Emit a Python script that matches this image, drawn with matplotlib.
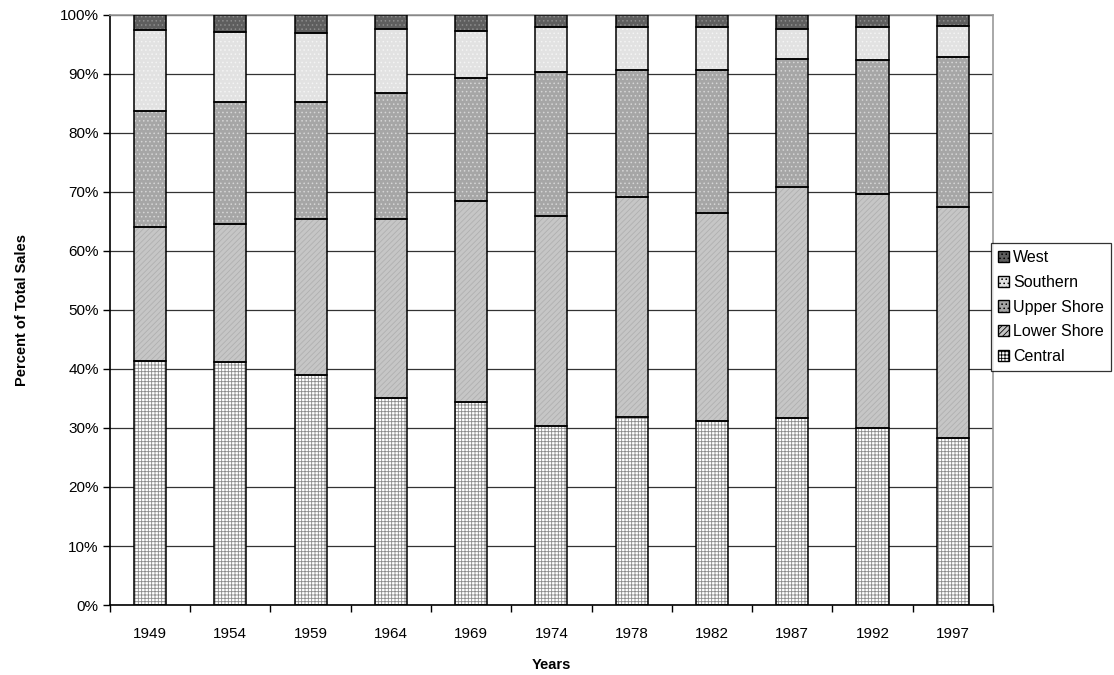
"""
Regional share of total sales, stacked percent columns by census year
"""

import matplotlib
matplotlib.use("Agg")
import matplotlib.pyplot as plt
import numpy as np
from matplotlib.patches import Rectangle
from matplotlib.ticker import PercentFormatter, FixedLocator

plt.rcParams["font.family"] = ["Liberation Sans", "DejaVu Sans"]
plt.rcParams["hatch.linewidth"] = 0.6

years = ["1949", "1954", "1959", "1964", "1969", "1974", "1978", "1982", "1987", "1992", "1997"]
central = [41.4, 41.2, 38.9, 35.1, 34.4, 30.3, 31.9, 31.2, 31.7, 30.0, 28.3]
lower_shore = [22.6, 23.3, 26.6, 30.4, 34.0, 35.7, 37.3, 35.2, 39.2, 39.6, 39.1]
upper_shore = [19.8, 20.7, 19.8, 21.2, 21.0, 24.4, 21.5, 24.2, 21.7, 22.7, 25.4]
southern = [13.7, 12.0, 11.7, 10.9, 7.9, 7.5, 7.3, 7.4, 5.1, 5.7, 5.4]
west = [2.5, 2.8, 3.0, 2.4, 2.7, 2.1, 2.0, 2.0, 2.3, 2.0, 1.8]

# (name, values, fill, hatch, hatch colour) from bottom to top
series = [
    ("Central", central, "#ffffff", "+++++", "#8a8a8a"),
    ("Lower Shore", lower_shore, "#c6c6c6", "//////", "#b0b0b0"),
    ("Upper Shore", upper_shore, "#a6a6a6", "....", "#d6d6d6"),
    ("Southern", southern, "#e2e2e2", "....", "#f4f4f4"),
    ("West", west, "#5e5e5e", "....", "#8c8c8c"),
]

fig = plt.figure(figsize=(11.14, 6.75), dpi=100)
ax = fig.add_axes([0.0987, 0.1037, 0.7926, 0.8741])

x = np.arange(len(years))
width = 0.4
bottom = np.zeros(len(years))
for name, vals, fc, hatch, hc in series:
    vals = np.array(vals)
    # textured fill first, then the black outline on top
    ax.bar(x, vals, width, bottom=bottom, color=fc, hatch=hatch,
           edgecolor=hc, linewidth=0, zorder=2)
    ax.bar(x, vals, width, bottom=bottom, fill=False,
           edgecolor="black", linewidth=1.1, zorder=3)
    bottom += vals

ax.set_xlim(-0.5, len(years) - 0.5)
ax.set_ylim(0, 100)

ax.set_yticks(np.arange(0, 101, 10))
ax.yaxis.set_major_formatter(PercentFormatter(decimals=0))
ax.yaxis.grid(True, color="#333333", linewidth=0.9, zorder=1)
ax.set_axisbelow(True)

# category labels centred, tick marks between the columns
ax.set_xticks(x)
ax.set_xticklabels(years)
ax.tick_params(axis="x", which="major", length=0, pad=16)
ax.xaxis.set_minor_locator(FixedLocator(np.arange(-0.5, len(years), 1.0)))
ax.tick_params(axis="x", which="minor", length=5, width=1, direction="out")
ax.tick_params(axis="y", length=5, width=1, direction="out", pad=3)
ax.tick_params(labelsize=11)

for side in ("top", "right"):
    ax.spines[side].set_color("#9a9a9a")
    ax.spines[side].set_linewidth(1.2)
for side in ("left", "bottom"):
    ax.spines[side].set_color("black")
    ax.spines[side].set_linewidth(1.2)

ax.set_ylabel("Percent of Total Sales", fontsize=10.5, fontweight="bold", labelpad=22)
ax.set_xlabel("Years", fontsize=10.5, fontweight="bold", labelpad=12)

handles = []
for name, vals, fc, hatch, hc in reversed(series):
    handles.append(Rectangle((0, 0), 1, 1, facecolor=fc, hatch=hatch,
                             edgecolor="black", linewidth=1.0, label=name))
leg = ax.legend(handles=handles, loc="center left", bbox_to_anchor=(0.9975, 0.505),
                fontsize=11.5, frameon=True, fancybox=False, edgecolor="black",
                handlelength=0.7, handleheight=0.7, handletextpad=0.25,
                labelspacing=0.6, borderpad=0.45, borderaxespad=0.0)
leg.get_frame().set_linewidth(0.9)

plt.savefig("out.png", dpi=100)
plt.close()
